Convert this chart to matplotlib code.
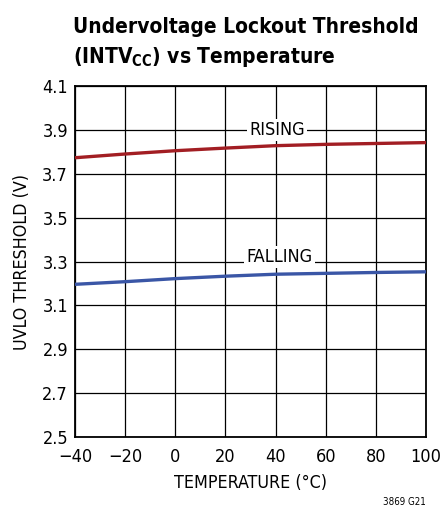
import matplotlib
matplotlib.use("Agg")
import matplotlib.pyplot as plt

plt.rcParams['font.family'] = ['DejaVu Sans']
plt.rcParams['font.stretch'] = 'condensed'

# data
temp = [-40, -20, 0, 20, 40, 60, 80, 100]
rising = [3.773, 3.790, 3.805, 3.817, 3.828, 3.834, 3.838, 3.842]
falling = [3.196, 3.208, 3.222, 3.233, 3.242, 3.246, 3.250, 3.253]

xticks = [-40, -20, 0, 20, 40, 60, 80, 100]
xticklabels = ['\u221240', '\u221220', '0', '20', '40', '60', '80', '100']
yticks = [2.5, 2.7, 2.9, 3.1, 3.3, 3.5, 3.7, 3.9, 4.1]

fig = plt.figure(figsize=(4.4, 5.08), dpi=100)
ax = fig.add_axes([75/440, 1 - 437/508, 351/440, 351/508])

ax.plot(temp, rising, color='#A21E23', lw=2.4, solid_capstyle='butt', zorder=3)
ax.plot(temp, falling, color='#3A56A6', lw=2.4, solid_capstyle='butt', zorder=3)

ax.set_xlim(-40, 100)
ax.set_ylim(2.5, 4.1)
ax.set_xticks(xticks)
ax.set_xticklabels(xticklabels)
ax.set_yticks(yticks)
ax.set_yticklabels([f'{v:.1f}' for v in yticks])
ax.tick_params(length=0, labelsize=13, pad=5)
ax.tick_params(axis='x', pad=8)
ax.grid(True, color='black', lw=0.9)
ax.set_axisbelow(True)
for s in ax.spines.values():
    s.set_linewidth(1.3)

box = dict(facecolor='white', edgecolor='none', pad=1.5)
ax.text(40.5, 3.9, 'RISING', ha='center', va='center', fontsize=13, bbox=box, zorder=4)
ax.text(41.5, 3.32, 'FALLING', ha='center', va='center', fontsize=13, bbox=box, zorder=4)

ax.set_xlabel('TEMPERATURE (\u00b0C)', fontsize=12.8, labelpad=6)
ax.set_ylabel('UVLO THRESHOLD (V)', fontsize=12.8, labelpad=8)

fig.text(73/440, 1 - 33/508, 'Undervoltage Lockout Threshold', fontsize=15, fontweight='bold')
fig.text(73/440, 1 - 63/508, '(INTV$_{\\mathregular{CC}}$) vs Temperature', fontsize=15, fontweight='bold')
fig.text(426/440, 1 - 505/508, '3869 G21', fontsize=7, ha='right')

fig.savefig('out.png', dpi=100)
